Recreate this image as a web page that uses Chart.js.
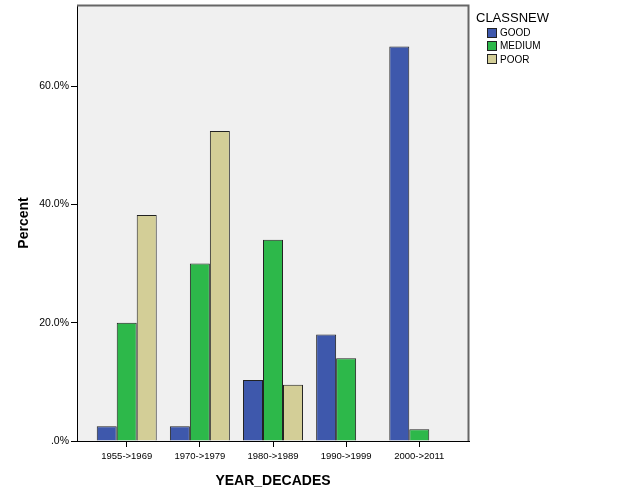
<!DOCTYPE html>
<html>
<head>
<meta charset="utf-8">
<script src="https://cdn.jsdelivr.net/npm/chart.js@4.4.1/dist/chart.umd.min.js"></script>
<style>
  body { margin: 0; background: #fff; }
  .wrap { position: relative; width: 626px; height: 501px; }
  .legend { position: absolute; left: 476px; top: 10px; font-family: Arial, "Liberation Sans", sans-serif; color: #000; }
  .legend .title { font-size: 13px; line-height: 16px; }
  .legend .item { display: flex; align-items: center; height: 13.3px; margin-left: 11px; font-size: 10px; }
  .legend .item:first-of-type { margin-top: 7px; }
  .legend .box { width: 8px; height: 8px; border: 1px solid #222; margin-right: 3px; }
</style>
</head>
<body>
<div class="wrap">
  <canvas id="chart" width="626" height="501"></canvas>
  <div class="legend" id="legend"></div>
</div>
<script>
const categories = ["1955->1969", "1970->1979", "1980->1989", "1990->1999", "2000->2011"];
const seriesNames = ["GOOD", "MEDIUM", "POOR"];
const good = [2.5, 2.5, 10.3, 18.0, 66.7];
const medium = [20.0, 30.0, 34.0, 14.0, 2.0];
const poor = [38.2, 52.4, 9.5, null, null];
const colors = ["#3e58ac", "#2db84a", "#d3ce97"];
const yTicks = [0, 20, 40, 60];

const FONT = "Arial, 'Liberation Sans', sans-serif";

// plot background + grey top/right frame
const frame = {
  id: "frame",
  beforeDraw(chart) {
    const { ctx, chartArea: a } = chart;
    ctx.save();
    ctx.fillStyle = "#f0f0f0";
    ctx.fillRect(a.left, a.top, a.right - a.left, a.bottom - a.top);
    ctx.restore();
  },
  afterDraw(chart) {
    const { ctx, chartArea: a } = chart;
    ctx.save();
    ctx.strokeStyle = "#666";
    ctx.lineWidth = 2;
    ctx.beginPath();
    ctx.moveTo(a.left, a.top + 0.5);
    ctx.lineTo(a.right - 0.5, a.top + 0.5);
    ctx.lineTo(a.right - 0.5, a.bottom);
    ctx.stroke();
    ctx.restore();
  }
};

const toPoints = arr => arr.map((v, i) => ({ x: i, y: v }));
const allData = [good, medium, poor];

const chart = new Chart(document.getElementById("chart"), {
  type: "bar",
  data: {
    datasets: seriesNames.map((name, i) => ({
      label: name,
      data: toPoints(allData[i]),
      backgroundColor: colors[i],
      borderColor: "#222",
      borderWidth: 1,
      categoryPercentage: 0.82,
      barPercentage: 1
    }))
  },
  options: {
    responsive: false,
    animation: false,
    layout: { padding: { top: 5, right: 157, left: 0, bottom: 0 } },
    plugins: { legend: { display: false }, tooltip: { enabled: false } },
    scales: {
      x: {
        type: "linear",
        min: -0.68,
        max: 4.68,
        offset: false,
        afterFit: s => { s.height = 60; s.paddingLeft = 0; s.paddingRight = 0; },
        afterBuildTicks: s => { s.ticks = s.ticks.filter(t => Number.isInteger(t.value)); },
        ticks: {
          stepSize: 1,
          includeBounds: false,
          autoSkip: false,
          maxRotation: 0,
          color: "#000",
          padding: 4,
          font: { family: FONT, size: 9.5 },
          callback: v => categories[v]
        },
        grid: { offset: false, drawOnChartArea: false, drawTicks: true, tickLength: 6, color: "#000" },
        border: { display: true, color: "#000", width: 1 },
        title: {
          display: true,
          text: "YEAR_DECADES",
          color: "#000",
          font: { family: FONT, size: 14, weight: "bold" },
          padding: { top: 0, bottom: 11 }
        }
      },
      y: {
        min: 0,
        max: 73.7,
        afterFit: s => { s.width = 77; s.paddingTop = 0; s.paddingBottom = 0; },
        afterBuildTicks: s => { s.ticks = yTicks.map(v => ({ value: v })); },
        ticks: {
          includeBounds: false,
          color: "#000",
          padding: 2,
          font: { family: FONT, size: 10.5 },
          callback: v => (v === 0 ? ".0%" : v.toFixed(1) + "%")
        },
        grid: { drawOnChartArea: false, drawTicks: true, tickLength: 6, color: "#000" },
        border: { display: true, color: "#000", width: 1 },
        title: {
          display: true,
          text: "Percent",
          color: "#000",
          font: { family: FONT, size: 14, weight: "bold" },
          padding: { top: 16, bottom: 0 }
        }
      }
    }
  },
  plugins: [frame]
});

// legend built from the datasets
const legend = document.getElementById("legend");
legend.innerHTML = '<div class="title">CLASSNEW</div>' +
  chart.data.datasets.map(ds =>
    `<div class="item"><span class="box" style="background:${ds.backgroundColor}"></span>${ds.label}</div>`
  ).join("");
</script>
</body>
</html>
